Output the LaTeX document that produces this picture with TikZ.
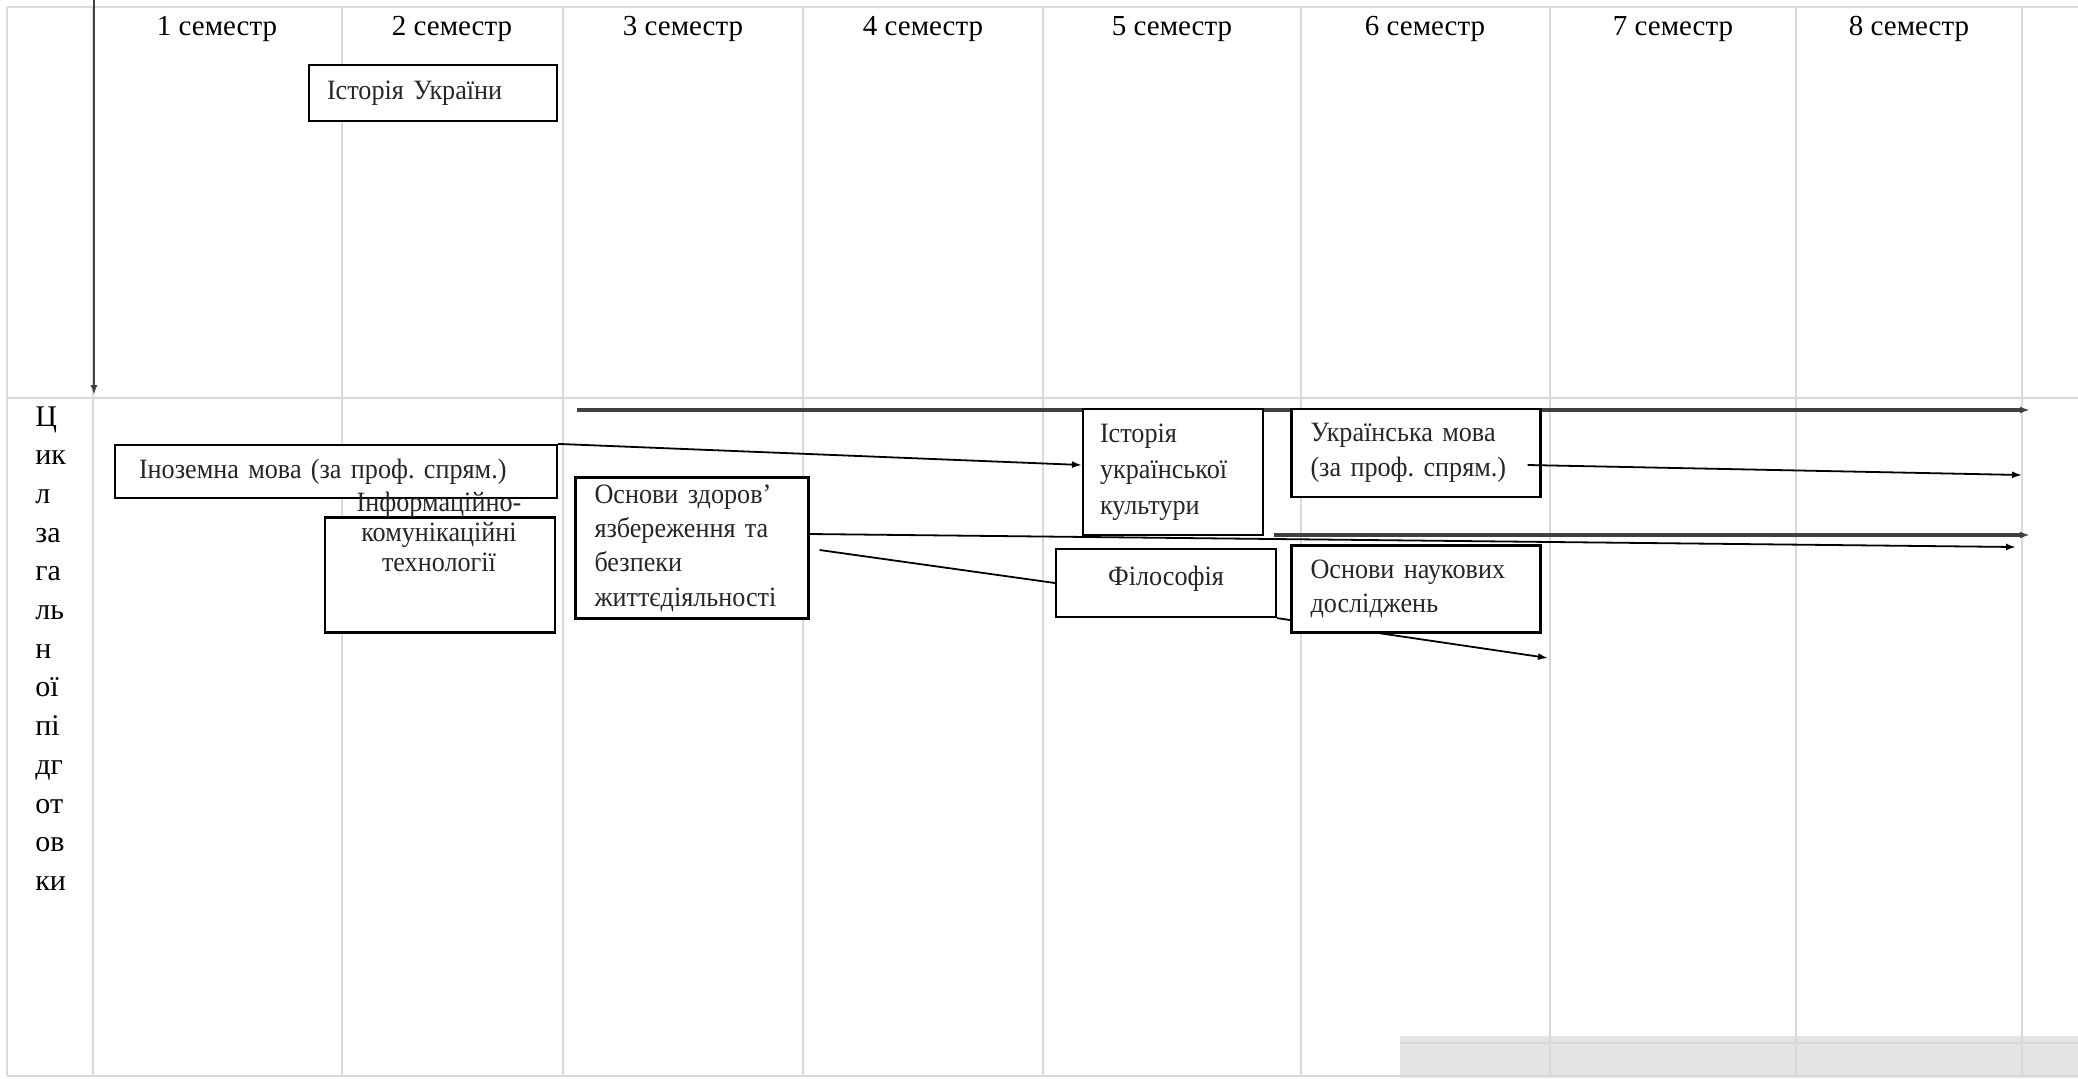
\documentclass[tikz,border=0pt]{standalone}
\usepackage{fontspec}
\setmainfont{Liberation Serif}
\newfontfamily\boxfont[FakeStretch=0.935]{Liberation Serif}
\frenchspacing
\usetikzlibrary{arrows,arrows.meta,positioning}
\definecolor{gridgray}{HTML}{D9D9D9}
\definecolor{bargray}{HTML}{404040}
\definecolor{footgray}{HTML}{E4E4E4}
\definecolor{footline}{HTML}{D6D6D6}
\tikzset{
    rule/.style={draw=gridgray,line width=1.3pt},
    head/.style={font=\fontsize{14.5}{17}\selectfont,anchor=base},
    syl/.style={font=\fontsize{15}{18}\selectfont,anchor=base west,inner sep=0pt},
    box/.style={rectangle,draw,line width=1.1pt,fill=white,inner ysep=0pt,
        font=\boxfont\fontsize{14}{17.2}\selectfont,text=black!85},
    lbox/.style={box,align=left},
    pre/.style={-{Latex[length=5pt,width=3.5pt]},line width=0.9pt},
    bar/.style={-{Latex[length=5pt,width=3.4pt]},line width=1.9pt,draw=bargray}
}

\begin{document}
\begin{tikzpicture}[x=0.5pt,y=-0.5pt]
\useasboundingbox (0,0) rectangle (2078,1078);

\fill[footgray] (1400,1036) rectangle (2078,1078);
\draw[footline,line width=1pt] (1400,1043) -- (2078,1043);
\foreach \x in {7,93,342,563,803,1043,1301,1550,1796,2022}
    \draw[rule] (\x,7) -- (\x,1076);
\foreach \y in {7,398,1076}
    \draw[rule] (7,\y) -- (2078,\y);

\foreach \n/\x in {1/217,2/452,3/683,4/923,5/1172,6/1425,7/1673,8/1909}
    \node[head] (sem \n) at (\x,35) {\n\ семестр};

\foreach \s [count=\i from 0] in {Ц,ик,л,за,га,ль,н,ої,пі,дг,от,ов,ки}
    \node[syl] (cycle \i) at (35,{426+38.7*\i}) {\s};

\coordinate (axis top) at (94,0);
\coordinate (axis end) at (94,395);
\draw[pre,draw=bargray] (axis top) -- (axis end);

\coordinate (bar 1 start) at (577,410);
\coordinate (bar 1 end) at (2030,410);
\draw[bar] (bar 1 start) -- (bar 1 end);

\node[lbox,text width=106pt,inner xsep=9pt,minimum height=28pt] (hist ua) at (433,93) {Історія України};
\node[lbox,text width=197pt,inner xsep=12pt,minimum height=26.5pt] (foreign) at (336,471.5) {Іноземна мова (за проф. спрям.)};
\node[box,minimum width=115pt,minimum height=57.5pt] (ikt) at (440,575) {};
\node[align=center,font=\boxfont\fontsize{14}{14.8}\selectfont,text=black!85] (ikt text) at (439,532) {Інформаційно-\\комунікаційні\\технології};
\node[lbox,text width=97.5pt,inner xsep=9.5pt,minimum height=70.5pt] (health) at (692,548) {Основи здоров’\\язбереження та\\безпеки\\життєдіяльності};
\node[lbox,text width=73pt,inner xsep=8.5pt,minimum height=63pt,font=\boxfont\fontsize{14}{18}\selectfont] (culture) at (1173,472) {Історія\\української\\культури};
\node[lbox,text width=105.5pt,inner xsep=9.5pt,minimum height=44pt] (ukr) at (1416,453) {Українська мова\\(за проф. спрям.)};
\node[box,minimum width=110pt,minimum height=34pt,text depth=7pt] (phil) at (1166,583) {Філософія};

\coordinate (bar 2 start) at (1274,535);
\coordinate (bar 2 end) at (2030,535);
\draw[bar] (bar 2 start) -- (bar 2 end);

\coordinate (ukr end) at (2022,475);
\coordinate (health end) at (2016,547);
\coordinate (phil end) at (1548,658);
\draw[pre] (foreign.north east) -- ([yshift=3.5pt]culture.west);
\draw[pre] ([xshift=-7pt,yshift=-6pt]ukr.east) -- (ukr end);
\draw[pre] ([yshift=7pt]health.east) -- (health end);
\draw[line width=0.9pt] ([xshift=5pt,yshift=-1pt]health.east) -- (phil.west);
\draw[pre] (phil.south east) -- (phil end);

\node[lbox,text width=105.5pt,inner xsep=9.5pt,minimum height=43.5pt] (research) at (1416,589) {Основи наукових\\досліджень};

\end{tikzpicture}
\end{document}
